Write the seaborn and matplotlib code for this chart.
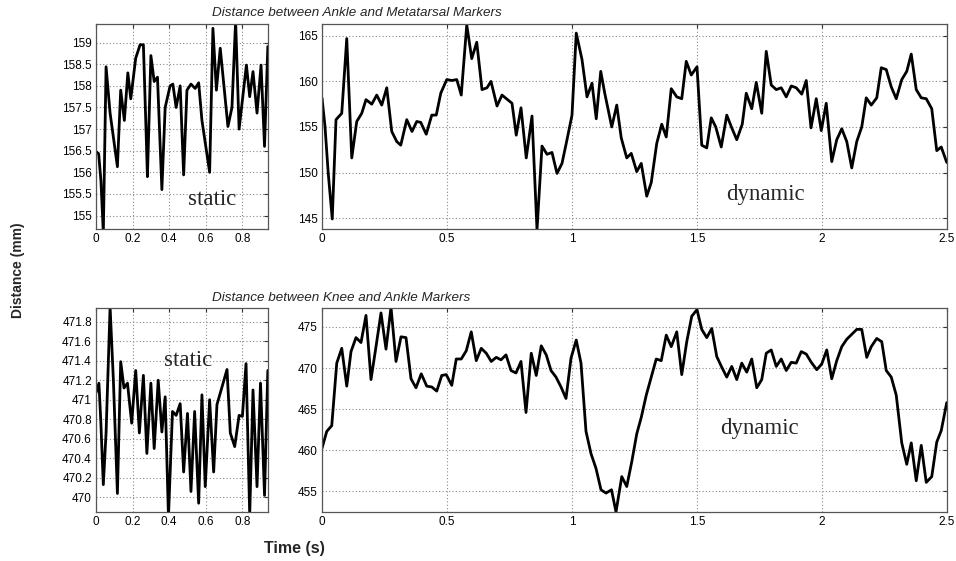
import numpy as np
import pandas as pd
import matplotlib
matplotlib.use("Agg")
import matplotlib.pyplot as plt
import seaborn as sns
from matplotlib.ticker import FuncFormatter, MultipleLocator

# ---------------- data ----------------
# Ankle - Metatarsal, static
am_static_t = [0, 0.0146, 0.027, 0.040, 0.055, 0.077, 0.117, 0.135, 0.155, 0.174, 0.19, 0.217,
               0.241, 0.259, 0.274, 0.281, 0.30, 0.318, 0.336, 0.36, 0.378, 0.405, 0.42, 0.438,
               0.46, 0.479, 0.497, 0.519, 0.542, 0.561, 0.579, 0.621, 0.639, 0.658, 0.679, 0.721,
               0.743, 0.763, 0.782, 0.822, 0.84, 0.858, 0.88, 0.902, 0.921, 0.939]
am_static_v = [156.48, 156.43, 155.8, 154.6, 158.44, 157.37, 156.13, 157.9, 157.2, 158.3, 157.7, 158.64,
               158.95, 158.95, 156.9, 155.9, 158.7, 158.1, 158.2, 155.6, 157.5, 158.0, 158.04, 157.5,
               158.0, 155.94, 157.9, 158.04, 157.94, 158.07, 157.2, 156.0, 159.33, 157.9, 158.87, 157.06,
               157.5, 159.5, 157.0, 158.48, 157.75, 158.33, 157.37, 158.48, 156.6, 158.91]

# Ankle - Metatarsal, dynamic
am_dyn_t = [0, 0.012, 0.025, 0.041, 0.056, 0.079, 0.099, 0.119, 0.139, 0.159, 0.176, 0.199, 0.219,
            0.239, 0.259, 0.279, 0.299, 0.315, 0.339, 0.36, 0.379, 0.395, 0.417, 0.439, 0.457, 0.475,
            0.499, 0.519, 0.539, 0.557, 0.579, 0.599, 0.619, 0.640, 0.66, 0.676, 0.70, 0.72, 0.74,
            0.76, 0.777, 0.796, 0.817, 0.84, 0.86, 0.88, 0.90, 0.92, 0.94, 0.96, 0.98, 1.0, 1.017,
            1.04, 1.06, 1.08, 1.097,
            1.115, 1.131, 1.159, 1.179, 1.197, 1.219, 1.237, 1.259, 1.277, 1.299, 1.317, 1.339, 1.359,
            1.377, 1.397, 1.419, 1.439, 1.457, 1.477, 1.5, 1.519, 1.539, 1.557, 1.575, 1.597, 1.619,
            1.639, 1.659, 1.681, 1.697, 1.719, 1.737, 1.759, 1.777, 1.797, 1.817, 1.837, 1.857, 1.877,
            1.897, 1.919, 1.937, 1.956, 1.977, 1.997, 2.017, 2.039, 2.059, 2.079, 2.099, 2.119, 2.139,
            2.159, 2.177, 2.197, 2.219, 2.237, 2.257, 2.277, 2.297, 2.319, 2.339, 2.357, 2.377, 2.397,
            2.417, 2.439, 2.459, 2.477, 2.499]
am_dyn_v = [158.2, 155.05, 149.9, 144.9, 155.8, 156.5, 164.7, 151.6, 155.6, 156.5, 158.0, 157.5, 158.5,
            157.4, 159.3, 154.5, 153.4, 153.0, 155.8, 154.5, 155.6, 155.5, 154.2, 156.3, 156.3, 158.7,
            160.2, 160.1, 160.2, 158.5, 166.2, 162.5, 164.3, 159.1, 159.3, 160.0, 157.3, 158.5, 158.05,
            157.6, 154.1, 157.1, 151.6, 156.2, 143.7, 152.9, 152.0, 152.2, 149.9, 151.0, 153.6, 156.3,
            165.3, 162.4, 158.3, 159.8, 155.9,
            161.1, 158.7, 155.0, 157.4, 153.8, 151.6, 152.1, 150.1, 151.0, 147.4, 148.9, 153.2, 155.3,
            153.9, 159.2, 158.3, 158.1, 162.2, 160.7, 161.6, 153.0, 152.7, 156.0, 155.0, 152.8, 156.3,
            154.9, 153.6, 155.3, 158.7, 157.0, 159.9, 156.5, 163.3, 159.6, 159.1, 159.3, 158.3, 159.5,
            159.3, 158.6, 160.1, 154.9, 158.1, 154.6, 157.6, 151.2, 153.6, 154.8, 153.4, 150.5, 153.4,
            155.0, 158.2, 157.4, 158.2, 161.5, 161.3, 159.4, 158.1, 160.2, 161.1, 163.0, 159.1, 158.2,
            158.1, 157.0, 152.4, 152.8, 151.1]

# Knee - Ankle, static
ka_static_t = [0, 0.016, 0.026, 0.040, 0.055, 0.077, 0.095, 0.117, 0.135, 0.153, 0.172, 0.195, 0.217,
               0.237, 0.259, 0.278, 0.30, 0.318, 0.34, 0.36, 0.378, 0.396, 0.418, 0.438, 0.46, 0.479,
               0.50, 0.519, 0.539, 0.561, 0.579, 0.597, 0.621, 0.643, 0.661, 0.716, 0.734, 0.758, 0.782,
               0.80, 0.82, 0.84, 0.858, 0.88, 0.899, 0.921, 0.939]
ka_static_v = [471.07, 471.17, 470.79, 470.13, 470.66, 471.95, 471.2, 470.04, 471.39, 471.12, 471.17,
               470.76, 471.3, 470.66, 471.25, 470.45, 471.17, 470.5, 471.2, 470.67, 471.03, 469.8,
               470.88, 470.84, 470.96, 470.26, 470.86, 470.06, 470.88, 469.94, 471.05, 470.11, 471.0,
               470.26, 470.95, 471.31, 470.66, 470.52, 470.84, 470.83, 471.37, 469.82, 471.1, 470.11,
               471.17, 470.02, 471.3]

# Knee - Ankle, dynamic
ka_dyn_t = [0, 0.019, 0.039, 0.059, 0.079, 0.099, 0.116, 0.136, 0.156, 0.176, 0.196, 0.216, 0.236,
            0.256, 0.276, 0.296, 0.316, 0.336, 0.356, 0.376, 0.397, 0.419, 0.439, 0.459, 0.479, 0.497,
            0.519, 0.537, 0.557, 0.577, 0.597, 0.617, 0.637, 0.657, 0.677, 0.697, 0.716, 0.736, 0.756,
            0.776, 0.796, 0.816, 0.837, 0.857, 0.877, 0.897, 0.916, 0.936, 0.956, 0.976, 0.996, 1.017,
            1.036, 1.056, 1.076, 1.096, 1.116, 1.136, 1.158, 1.176,
            1.199, 1.219, 1.239, 1.259, 1.277, 1.297, 1.317, 1.337, 1.357, 1.377, 1.397, 1.419, 1.439,
            1.459, 1.479, 1.5, 1.519, 1.539, 1.559, 1.579, 1.599, 1.619, 1.639, 1.659, 1.679, 1.699,
            1.719, 1.739, 1.759, 1.777, 1.797, 1.817, 1.837, 1.857, 1.877, 1.897, 1.917, 1.937, 1.957,
            1.979, 1.999, 2.019, 2.039, 2.059, 2.079, 2.099, 2.119, 2.139, 2.159, 2.179, 2.197, 2.219,
            2.239, 2.257, 2.277, 2.297, 2.319, 2.339, 2.357, 2.377, 2.397, 2.417, 2.439, 2.459, 2.477,
            2.499]
ka_dyn_v = [460.25, 462.3, 463.0, 470.6, 472.4, 467.8, 472.0, 473.7, 473.1, 476.4, 468.6, 472.6, 476.7,
            472.3, 477.4, 470.8, 473.8, 473.7, 468.7, 467.6, 469.3, 467.8, 467.7, 467.2, 469.1, 469.2,
            467.9, 471.1, 471.1, 472.1, 474.4, 470.9, 472.4, 471.8, 470.8, 471.3, 471.0, 471.6, 469.7,
            469.4, 470.8, 464.6, 471.8, 469.1, 472.7, 471.6, 469.7, 468.9, 467.7, 466.3, 471.2, 473.4,
            470.6, 462.3, 459.6, 457.8, 455.2, 454.8, 455.2, 452.5,
            456.8, 455.6, 458.6, 462.0, 464.0, 466.7, 468.9, 471.1, 470.9, 474.0, 472.6, 474.4, 469.2,
            473.2, 476.3, 477.1, 474.7, 473.7, 474.8, 471.4, 470.1, 468.9, 470.2, 468.6, 470.6, 469.5,
            471.1, 467.6, 468.6, 471.8, 472.2, 470.2, 471.1, 469.7, 470.7, 470.6, 472.0, 471.7, 470.7,
            469.8, 470.5, 472.2, 468.7, 470.9, 472.6, 473.5, 474.1, 474.7, 474.7, 471.3, 472.6, 473.6,
            473.2, 469.7, 468.9, 466.7, 460.9, 458.3, 460.9, 456.3, 460.6, 456.1, 456.8, 461.0, 462.4,
            465.8]

title_top = "Distance between Ankle and Metatarsal Markers"
title_bottom = "Distance between Knee and Ankle Markers"
ylabel = "Distance (mm)"
xlabel = "Time (s)"

# ---------------- figure ----------------
sns.set_style("white")
plt.rcParams['font.family'] = ['Liberation Sans', 'DejaVu Sans']

W, H = 956, 561
fig = plt.figure(figsize=(W / 100, H / 100), dpi=100)


def rect(x0, y0, x1, y1):
    return [x0 / W, 1 - y1 / H, (x1 - x0) / W, (y1 - y0) / H]


def fmt(v, pos):
    s = f"{v:.1f}"
    if s.endswith(".0"):
        s = s[:-2]
    return s


def style(ax, xlim, ylim, xstep, ystep):
    ax.set_xlim(*xlim)
    ax.set_ylim(*ylim)
    ax.xaxis.set_major_locator(MultipleLocator(xstep))
    ax.yaxis.set_major_locator(MultipleLocator(ystep))
    ax.xaxis.set_major_formatter(FuncFormatter(fmt))
    ax.yaxis.set_major_formatter(FuncFormatter(fmt))
    ax.grid(True, color="#8a8a8a", linestyle=(0, (1, 2)), linewidth=0.8)
    ax.tick_params(direction="in", length=3, width=0.8, colors="#333333",
                   labelsize=8.5, labelcolor="black", top=True, right=True, pad=3)
    for sp in ax.spines.values():
        sp.set_color("#555555")
        sp.set_linewidth(0.9)
    ax.set_xlabel("")
    ax.set_ylabel("")
    if ax.get_legend() is not None:
        ax.get_legend().remove()


panels = [
    (rect(96, 24, 268, 229), am_static_t, am_static_v, (0, 0.94), (154.69, 159.43), 0.2, 0.5,
     "static", (0.674, 0.146)),
    (rect(322, 24, 947, 229), am_dyn_t, am_dyn_v, (0, 2.5), (143.8, 166.3), 0.5, 5,
     "dynamic", (0.71, 0.166)),
    (rect(96, 308, 268, 512), ka_static_t, ka_static_v, (0, 0.94), (469.85, 471.94), 0.2, 0.2,
     "static", (0.535, 0.745)),
    (rect(322, 308, 947, 512), ka_dyn_t, ka_dyn_v, (0, 2.5), (452.5, 477.3), 0.5, 5,
     "dynamic", (0.70, 0.407)),
]

for r, t, v, xl, yl, xs, ys, lab, pos in panels:
    ax = fig.add_axes(r)
    df = pd.DataFrame({"t": t, "v": v})
    sns.lineplot(data=df, x="t", y="v", ax=ax, color="black", linewidth=2.0,
                 estimator=None, sort=False)
    style(ax, xl, yl, xs, ys)
    ax.text(pos[0], pos[1], lab, transform=ax.transAxes, ha="center", va="center",
            fontsize=16.5, family=["Liberation Serif", "DejaVu Serif"])

fig.text(212 / W, 1 - 13 / H, title_top, ha="left", va="center", fontsize=9.7, style="italic")
fig.text(212 / W, 1 - 298 / H, title_bottom, ha="left", va="center", fontsize=9.7, style="italic")
fig.text(18 / W, 1 - 270 / H, ylabel, rotation=90, ha="center", va="center",
         fontsize=10, fontweight="bold")
fig.text(294 / W, 1 - 548 / H, xlabel, ha="center", va="center", fontsize=11.5, fontweight="bold")

fig.savefig("out.png", dpi=100, facecolor="white")
